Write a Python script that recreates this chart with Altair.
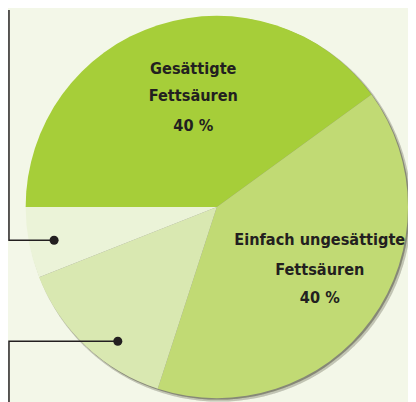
import math
import altair as alt
import pandas as pd

# slice data
categories = ["Gesättigte Fettsäuren", "Einfach ungesättigte Fettsäuren",
              "Mehrfach ungesättigte Fettsäuren", "Sonstige"]
values = [40, 40, 14, 6]
colors = ["#a6ce39", "#c1da74", "#d9e8b1", "#ebf3d8"]

# label lines
label_lines = ["Gesättigte", "Fettsäuren", "40 %",
               "Einfach ungesättigte", "Fettsäuren", "40 %"]
label_x = [189, 189, 189, 318, 318, 318]
label_y = [63, 91, 122, 238, 268, 297]

# leader lines (pixel annotations)
line_id = [1, 1, 1, 2, 2, 2]
line_x = [1, 1, 47, 1, 1, 112]
line_y = [-2, 233, 233, 400, 336, 336]
dot_x = [47, 112]
dot_y = [233, 336]

W, H = 408, 394
CX, CY, R = 213, 199, 195
BG = "#f3f7e8"
INK = "#231f20"
FONT = "DejaVu Sans Condensed, Liberation Sans Narrow, Arial Narrow, sans-serif"

pie_df = pd.DataFrame({"cat": categories, "val": values, "order": range(len(values))})
lab_df = pd.DataFrame({"t": label_lines, "x": label_x, "y": label_y})
line_df = pd.DataFrame({"id": line_id, "x": line_x, "y": line_y, "o": range(len(line_x))})
dot_df = pd.DataFrame({"x": dot_x, "y": dot_y})

base_pie = alt.Chart(pie_df)

shadow1 = base_pie.mark_arc(radius=R + 1, x=CX + 2.5, y=CY + 2.5, color="#7a7a6a", opacity=0.12).encode(
    theta=alt.value(0), theta2=alt.value(2 * math.pi)
)
shadow2 = base_pie.mark_arc(radius=R, x=CX + 1.5, y=CY + 1.5, color="#5a5a4a", opacity=0.18).encode(
    theta=alt.value(0), theta2=alt.value(2 * math.pi)
)

pie = base_pie.mark_arc(radius=R, x=CX, y=CY).encode(
    theta=alt.Theta("val:Q", stack=True,
                    scale=alt.Scale(range=[-math.pi / 2, 3 * math.pi / 2])),
    color=alt.Color("cat:N", scale=alt.Scale(domain=categories, range=colors), legend=None),
    order=alt.Order("order:Q"),
)

labels = alt.Chart(lab_df).mark_text(
    font=FONT, fontWeight="bold", fontSize=16.5,
    color=INK, align="center", baseline="alphabetic"
).encode(
    x=alt.X("x:Q", scale=None), y=alt.Y("y:Q", scale=None), text="t:N"
)

lines = alt.Chart(line_df).mark_line(color=INK, strokeWidth=1.5).encode(
    x=alt.X("x:Q", scale=None), y=alt.Y("y:Q", scale=None),
    detail="id:N", order="o:Q"
)

dots = alt.Chart(dot_df).mark_circle(color=INK, size=85, opacity=1).encode(
    x=alt.X("x:Q", scale=None), y=alt.Y("y:Q", scale=None)
)

chart = alt.layer(shadow1, shadow2, pie, lines, dots, labels).properties(
    width=W, height=H, background=BG, padding=0,
    autosize=alt.AutoSizeParams(type="none")
).configure_view(stroke=None)

chart.save("out.html", embed_options={"renderer": "svg", "actions": False})
